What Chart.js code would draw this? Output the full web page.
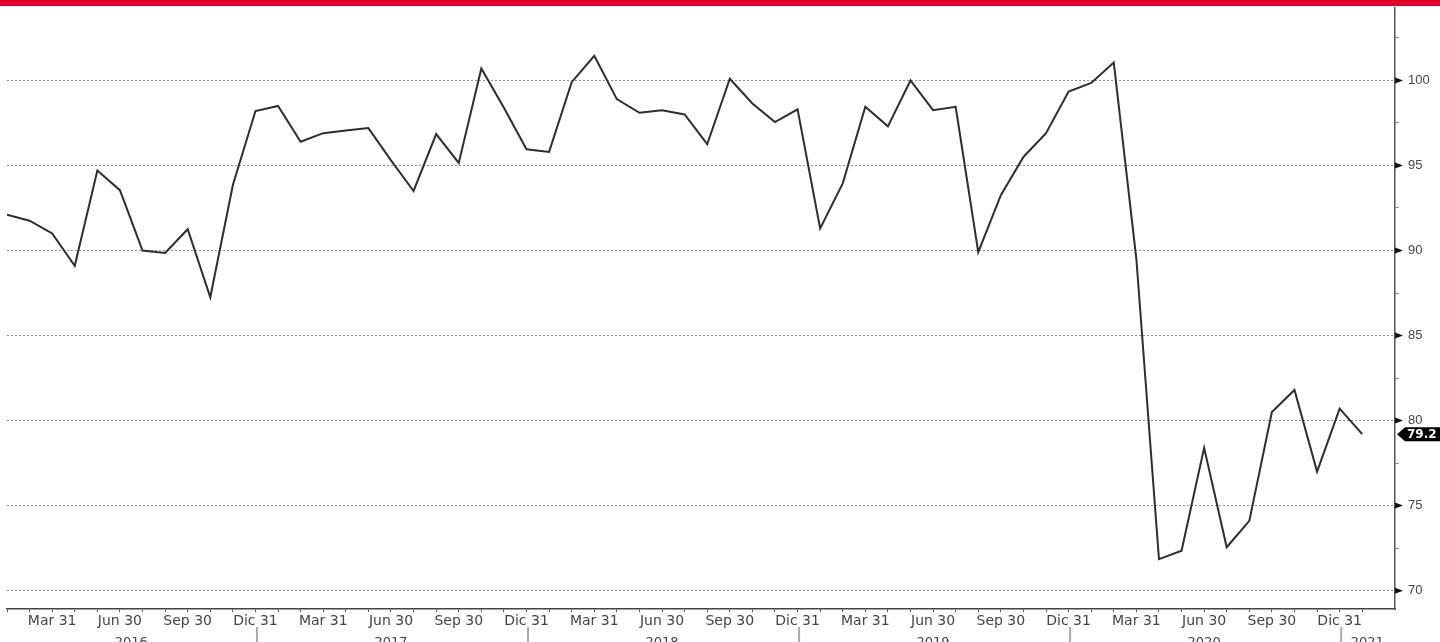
<!DOCTYPE html>
<html>
<head>
<meta charset="utf-8">
<script src="https://cdn.jsdelivr.net/npm/chart.js@4.4.1/dist/chart.umd.min.js"></script>
<style>
  html, body { margin: 0; padding: 0; background: #fff; }
  canvas { display: block; }
</style>
</head>
<body>
<canvas id="myChart" width="1440" height="642"></canvas>
<script>
// month-end index values, Jan 2016 .. Jan 2021
var values2016 = [92.1, 91.75, 91.0, 89.1, 94.7, 93.55, 90.0, 89.85, 91.25, 87.25, 93.85, 98.2]
var values2017 = [98.5, 96.4, 96.9, 97.05, 97.2, 95.3, 93.5, 96.85, 95.15, 100.7, 98.4, 95.95]
var values2018 = [95.8, 99.9, 101.45, 98.9, 98.1, 98.25, 98.0, 96.25, 100.1, 98.65, 97.55, 98.3]
var values2019 = [91.3, 93.95, 98.45, 97.3, 100.0, 98.25, 98.45, 89.9, 93.25, 95.5, 96.9, 99.35]
var values2020 = [99.85, 101.05, 89.5, 71.85, 72.35, 78.4, 72.55, 74.1, 80.5, 81.8, 77.0, 80.7]
var values2021 = [79.2]

// axis text
var years = ['2016', '2017', '2018', '2019', '2020', '2021']
var quarterLabels = ['', '', 'Mar 31', '', '', 'Jun 30', '', '', 'Sep 30', '', '', 'Dic 31']
var yTickValues = [70, 72.5, 75, 77.5, 80, 82.5, 85, 87.5, 90, 92.5, 95, 97.5, 100, 102.5]

var values = [].concat(values2016, values2017, values2018, values2019, values2020, values2021)

// one tick label per month
var tickLabels = []
for (var i = 0; i < values.length; i++) {
  tickLabels.push(quarterLabels[i % 12])
}

var points = values.map(function (v, i) { return { x: i, y: v } })

// red band, year row, arrows on the value axis, last value tag
var extras = {
  id: 'extras',
  beforeDraw: function (chart) {
    var ctx = chart.ctx
    ctx.save()
    ctx.fillStyle = '#e0002a'
    ctx.fillRect(0, 0, chart.width, 6)
    ctx.restore()
  },
  afterDraw: function (chart) {
    var ctx = chart.ctx
    var area = chart.chartArea
    var xs = chart.scales.x
    var ys = chart.scales.y
    ctx.save()

    // year separators and labels
    ctx.font = '13px "DejaVu Sans"'
    ctx.fillStyle = '#444'
    ctx.textAlign = 'center'
    ctx.textBaseline = 'alphabetic'
    for (var k = 0; k < years.length; k++) {
      var startPx = Math.max(area.left, xs.getPixelForValue(k * 12 - 1))
      var endPx = Math.min(area.right, xs.getPixelForValue(k * 12 + 11))
      ctx.fillText(years[k], (startPx + endPx) / 2, 646)
      if (k * 12 + 11 < values.length) {
        ctx.strokeStyle = '#aaa'
        ctx.lineWidth = 2
        ctx.beginPath()
        ctx.moveTo(endPx + 1.5, 627)
        ctx.lineTo(endPx + 1.5, 642)
        ctx.stroke()
      }
    }

    // arrow markers on major y ticks
    ctx.fillStyle = '#111'
    yTickValues.forEach(function (v) {
      if (v % 5 !== 0) return
      var y = ys.getPixelForValue(v)
      ctx.beginPath()
      ctx.moveTo(area.right, y - 3)
      ctx.lineTo(area.right + 8, y)
      ctx.lineTo(area.right, y + 3)
      ctx.closePath()
      ctx.fill()
    })

    // last value tag
    var last = values[values.length - 1]
    var ty = ys.getPixelForValue(last)
    var tx = area.right + 2
    ctx.fillStyle = '#000'
    ctx.beginPath()
    ctx.moveTo(tx, ty)
    ctx.lineTo(tx + 8, ty - 7)
    ctx.lineTo(chart.width, ty - 7)
    ctx.lineTo(chart.width, ty + 7)
    ctx.lineTo(tx + 8, ty + 7)
    ctx.closePath()
    ctx.fill()
    ctx.fillStyle = '#fff'
    ctx.font = 'bold 12px "DejaVu Sans"'
    ctx.textAlign = 'left'
    ctx.textBaseline = 'middle'
    ctx.fillText(last.toFixed(1), tx + 10, ty + 1)
    ctx.restore()
  }
}

var ctx = document.getElementById('myChart').getContext('2d')
var chart = new Chart(ctx, {
  type: 'line',
  data: {
    datasets: [{
      data: points,
      borderColor: '#2e2e2e',
      borderWidth: 2,
      pointRadius: 0,
      tension: 0,
      fill: false
    }]
  },
  options: {
    responsive: false,
    animation: false,
    layout: { padding: { top: 8, left: 7, right: 0, bottom: 0 } },
    plugins: {
      legend: { display: false },
      tooltip: { enabled: false }
    },
    scales: {
      x: {
        type: 'linear',
        min: 0,
        max: 61.45,
        afterBuildTicks: function (axis) {
          axis.ticks = values.map(function (v, i) { return { value: i } })
        },
        afterFit: function (axis) {
          axis.height = 33
          axis.paddingLeft = 0
          axis.paddingRight = 0
        },
        grid: {
          drawOnChartArea: false,
          drawTicks: true,
          tickLength: 3,
          tickColor: '#555'
        },
        border: { display: true, color: '#444', width: 1.5 },
        ticks: {
          autoSkip: false,
          maxRotation: 0,
          minRotation: 0,
          padding: 1,
          color: '#444',
          font: { family: 'DejaVu Sans', size: 14 },
          callback: function (value) { return tickLabels[value] }
        }
      },
      y: {
        position: 'right',
        min: 68.92,
        max: 104.26,
        afterBuildTicks: function (axis) {
          axis.ticks = yTickValues.map(function (v) { return { value: v } })
        },
        afterFit: function (axis) {
          axis.width = 45
          axis.paddingTop = 0
          axis.paddingBottom = 0
        },
        grid: {
          color: function (c) {
            return c.tick && c.tick.value % 5 === 0 ? '#8f8f8f' : 'rgba(0,0,0,0)'
          },
          tickColor: '#888',
          tickLength: 4,
          tickBorderDash: [0, 0]
        },
        border: { display: true, color: '#555', width: 1.5, dash: [2, 2] },
        ticks: {
          padding: 9,
          color: '#444',
          font: { family: 'Liberation Sans', size: 13 },
          callback: function (value) { return value % 5 === 0 ? String(value) : '' }
        }
      }
    }
  },
  plugins: [extras]
})
</script>
</body>
</html>
